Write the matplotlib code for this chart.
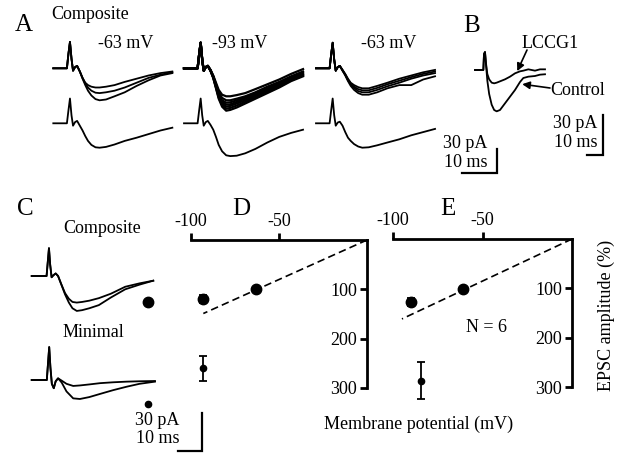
import matplotlib.pyplot as plt

plt.rcParams['font.family'] = ['Liberation Serif', 'DejaVu Serif']
plt.rcParams['font.size'] = 13

# ---- data (ms, pA) ----
# panel A: common time base
tA = [0, 4.0, 4.45, 4.9, 5.35, 5.8, 6.4, 7.0, 7.8, 8.6, 9.4, 10.2, 11.2, 12.4,
      13.6, 15.5, 18, 21, 24.5, 28, 31.5, 35]

a1_top = [
    [0, 0, 18, 33, 12, -3, 1.5, 3, -4, -12, -18, -21, -23, -24, -24, -23, -21, -17, -13, -9, -6, -4],
    [0, 0, 18, 33, 12, -3, 1.5, 3, -4, -12, -19, -24, -28, -30.5, -31, -30, -28, -24, -18, -12, -8, -5],
    [0, 0, 18, 33, 12, -3, 1.5, 3, -4, -13, -21, -28, -34, -38.5, -40, -39, -35, -30, -22, -15, -9, -6],
]
a1_avg = [0, 0, 16, 31, 10, -3, 1.5, 3, -3, -9, -16, -22, -27, -30, -30.5, -29.5, -26.5, -22, -18, -13.5, -9, -5.5]

a2_top = [
    [0, 0, 17, 32, 11, -3, 1.5, 3, -2, -9, -18, -27, -33, -35, -35, -33.5, -31, -26, -20, -14, -7, -1],
    [0, 0, 17, 32, 11, -3, 1.5, 3, -2, -10, -20, -30, -37, -40, -40, -38, -35, -30, -23, -17, -10, -4],
    [0, 0, 17, 32, 11, -3, 1.5, 3, -3, -10, -21, -32, -40, -43, -42.5, -40, -36.5, -31.5, -25, -18.5, -11.5, -5.5],
    [0, 0, 17, 32, 11, -3, 1.5, 3, -3, -11, -22, -33, -42, -45.5, -45, -42, -38, -33, -26, -20, -13, -7],
    [0, 0, 17, 32, 11, -3, 1.5, 3, -3, -11, -23, -35, -44, -48, -47, -44, -40, -34.5, -27.5, -21.5, -14.5, -8],
    [0, 0, 17, 32, 11, -3, 1.5, 3, -3, -12, -24, -36.5, -46, -50.5, -49.5, -46.5, -42, -36, -29, -22.5, -15, -9],
    [0, 0, 17, 32, 11, -3, 1.5, 3, -3, -12, -25, -38, -48, -53, -52, -49, -44, -38, -31, -24, -16, -10],
]
a2_avg = [0, 0, 16, 31, 10, -3, 1.5, 3, -2, -8, -17, -27, -35, -40, -41, -40.5, -37.5, -32, -24, -17, -12, -8]

a3_top = [
    [0, 0, 17, 32, 11, -3, 1.5, 3, -2, -7, -13, -18, -21, -23.5, -25, -25, -22, -18, -13, -9, -5, -2],
    [0, 0, 17, 32, 11, -3, 1.5, 3, -2, -8, -14, -19, -23, -26, -27.5, -27.5, -24.5, -20, -15.5, -11, -7, -4],
    [0, 0, 17, 32, 11, -3, 1.5, 3, -3, -8, -15, -20, -24.5, -28.5, -30, -30, -27, -22.5, -18, -13, -9, -6],
    [0, 0, 17, 32, 11, -3, 1.5, 3, -3, -9, -16, -22, -27, -31, -33, -33, -30, -25, -21, -21, -14, -10],
]
a3_avg = [0, 0, 16, 31, 10, -3, 1, 2, -3, -11, -18, -22, -26, -29, -30.5, -30, -27.5, -24, -20, -15, -11, -7]

# panel B
tB = [0, 5.0, 5.4, 6.0, 6.6, 7.4, 8.5, 10, 11.5, 13, 15, 18, 21, 24, 27, 29, 32, 36, 39, 42]
b_lccg1 = [0, 0, 12, 13.5, 5, -3, -7, -9.5, -10, -9.5, -8.5, -7, -5, -2.5, -1, -0.5, 0.5, -0.5, 0.5, 0.5]
b_control = [0, 0, 12, 13.5, 4, -8, -18, -26, -30, -31, -30, -25, -20, -15, -9, -6, -5, -4.5, -3.5, -3.2]

# panel C
tC_comp = [0, 6.2, 6.7, 7.2, 7.7, 8.3, 9.0, 10.0, 11.0, 12.2, 13.9, 15.5, 17.0, 18.8,
           21, 24, 28, 33, 39, 45, 50.7]
c_comp = [
    [0, 0, 11, 22, 9, -1, 0.5, 2, 0, -5.8, -13.5, -18, -20.5, -21, -20.5, -19.5, -17.5, -14, -8.5, -5.8, -3.7],
    [0, 0, 11, 22, 9, -1, 0.5, 2, 0, -6, -14.5, -21, -25.5, -27.6, -27, -25.5, -23, -17, -10.5, -6.8, -3.7],
]
tC_min = [0, 6.3, 6.8, 7.3, 7.8, 8.4, 9.2, 10.0, 11.0, 12.5, 14.5, 17.3, 20.1, 24,
          28.5, 34, 39.6, 45, 51.4]
c_min = [
    [0, 0, 13, 26, 10, -3, -6.5, -1, 1.3, -0.5, -3, -4.7, -4.3, -3.5, -2.5, -1.8, -1.3, -1, -0.8],
    [0, 0, 13, 26, 10, -3, -6.5, -1, 1.3, -2, -9, -14.5, -15, -13.5, -11, -8, -5.3, -3, -1.3],
]
c_comp_dot = (48.4, -20.3)
c_min_dot = (48.5, -19)

# panels D, E: membrane potential (mV) vs EPSC amplitude (%)
d_comp_v = [-93, -63]
d_comp_amp = [120, 100]
d_comp_err = [8, 0]
d_min_v = [-93]
d_min_amp = [260]
d_min_err = [25]
d_fit_v = [0, -93]
d_fit_amp = [0, 149]

e_comp_v = [-90, -61]
e_comp_amp = [128, 102]
e_comp_err = [8, 0]
e_min_v = [-84.5]
e_min_amp = [287]
e_min_err = [37]
e_fit_v = [0, -95]
e_fit_amp = [0, 162]

W, H = 623, 454
fig = plt.figure(figsize=(W / 100, H / 100), dpi=100)


def px_axes(x0, y0, x1, y1):
    ax = fig.add_axes([x0 / W, 1 - y1 / H, (x1 - x0) / W, (y1 - y0) / H])
    ax.patch.set_visible(False)
    return ax


def trace_axes(x0, base_y, ms_px, pa_px, t_max, i_min, i_max):
    # data units are ms and pA; t=0 sits at x0 px, 0 pA at base_y px
    ax = px_axes(x0, base_y - i_max / pa_px, x0 + t_max / ms_px, base_y - i_min / pa_px)
    ax.set_xlim(0, t_max)
    ax.set_ylim(i_min, i_max)
    ax.set_axis_off()
    return ax


def scale_bar(x0, y0, x1, y1):
    ax = px_axes(x0, y0, x1, y1)
    ax.set_xlim(0, 10)
    ax.set_ylim(0, 30)
    ax.set_axis_off()
    ax.plot([0, 10, 10], [0, 0, 30], color='k', lw=1.6, clip_on=False,
            solid_joinstyle='miter')


def label(x, y, s, **kw):
    kw.setdefault('va', 'baseline')
    fig.text(x / W, 1 - y / H, s, **kw)


LW = 1.3

# ---- panel A ----
for x0, tops, avg, lw in [(53.3, a1_top, a1_avg, LW), (184, a2_top, a2_avg, 1.6),
                          (316, a3_top, a3_avg, LW)]:
    ax = trace_axes(x0, 68.3, 0.294, 1.25, 35, -60, 40)
    for tr in tops:
        ax.plot(tA, tr, color='k', lw=lw, clip_on=False)
    ax = trace_axes(x0, 123.3, 0.294, 1.25, 35, -60, 40)
    ax.plot(tA, avg, color='k', lw=LW, clip_on=False)

label(24, 31, 'A', fontsize=18, ha='center')
label(90, 19, 'Composite', ha='center')
label(126, 48, '-63 mV', ha='center')
label(240, 48, '-93 mV', ha='center')
label(389, 48, '-63 mV', ha='center')
label(487, 148, '30 pA', ha='right')
label(487, 167, '10 ms', ha='right')
scale_bar(462, 149, 496.7, 173)

# ---- panel B ----
axB = trace_axes(475, 70, 0.6, 0.75, 42, -35, 20)
axB.plot(tB, b_lccg1, color='k', lw=LW, clip_on=False)
axB.plot(tB, b_control, color='k', lw=LW, clip_on=False)
arrow = dict(arrowstyle='-|>', color='k', lw=1.2, mutation_scale=11, shrinkA=0, shrinkB=1)
axB.annotate('', xy=(25, -1.8), xytext=(527, H - 50), textcoords='figure pixels',
             arrowprops=arrow)
axB.annotate('', xy=(27.5, -10.5), xytext=(550, H - 88), textcoords='figure pixels',
             arrowprops=arrow)
label(472, 31.5, 'B', fontsize=18, ha='center')
label(550, 48, 'LCCG1', ha='center')
label(578, 95, 'Control', ha='center')
label(597, 128, '30 pA', ha='right')
label(597, 147, '10 ms', ha='right')
scale_bar(586.7, 115, 603.3, 155)

# ---- panel C ----
axC1 = trace_axes(31.7, 276, 0.417, 0.79, 51.4, -30, 25)
for tr in c_comp:
    axC1.plot(tC_comp, tr, color='k', lw=LW, clip_on=False)
axC1.plot(*c_comp_dot, 'o', color='k', ms=7.5, clip_on=False)
axC2 = trace_axes(31.7, 380, 0.417, 0.79, 51.4, -20, 30)
for tr in c_min:
    axC2.plot(tC_min, tr, color='k', lw=LW, clip_on=False)
axC2.plot(*c_min_dot, 'o', color='k', ms=4.5, clip_on=False)
label(25, 215, 'C', fontsize=18, ha='center')
label(102, 233, 'Composite', ha='center')
label(93, 337, 'Minimal', ha='center')
label(179, 425, '30 pA', ha='right')
label(179, 443, '10 ms', ha='right')
scale_bar(178.3, 413.3, 201.7, 450.7)


# ---- panels D, E ----
def iv_axes(x0, y0, x1, y1):
    ax = px_axes(x0, y0, x1, y1)
    ax.set_xlim(-100, 0)
    ax.set_ylim(300, 0)
    ax.spines['left'].set_position(('axes', 1))
    ax.spines['right'].set_visible(False)
    ax.spines['bottom'].set_visible(False)
    for s in ('left', 'top'):
        ax.spines[s].set_linewidth(2)
    ax.xaxis.tick_top()
    ax.set_xticks([-100, -50])
    ax.set_xticklabels(['-100', '-50'])
    ax.set_yticks([100, 200, 300])
    ax.set_yticklabels(['100', '200', '300'])
    ax.tick_params(direction='out', length=5, width=2, labelsize=13, pad=2)
    return ax


def points(ax, v, amp, err, ms):
    cont = ax.errorbar(v, amp, yerr=err, fmt='o', color='k', ms=ms, capsize=2.8,
                       elinewidth=1.3, capthick=1.3)
    for art in cont.get_children():
        art.set_clip_on(False)


axD = iv_axes(191, 240, 367, 388)
axD.plot(d_fit_v, d_fit_amp, color='k', lw=1.2, dashes=(4.5, 2.5))
points(axD, d_comp_v, d_comp_amp, d_comp_err, 7.5)
points(axD, d_min_v, d_min_amp, d_min_err, 4.5)
label(241, 215, 'D', fontsize=18, ha='center')

axE = iv_axes(393, 239, 572, 387)
axE.plot(e_fit_v, e_fit_amp, color='k', lw=1.2, dashes=(4.5, 2.5))
points(axE, e_comp_v, e_comp_amp, e_comp_err, 7.5)
points(axE, e_min_v, e_min_amp, e_min_err, 4.5)
label(448, 215, 'E', fontsize=18, ha='center')
label(486, 332, 'N = 6', ha='center')

label(418.5, 429, 'Membrane potential (mV)', ha='center')
fig.text(606.7 / W, 1 - 315 / H, 'EPSC amplitude (%)', rotation=90, ha='center', va='center')

fig.savefig('out.png', dpi=100)
